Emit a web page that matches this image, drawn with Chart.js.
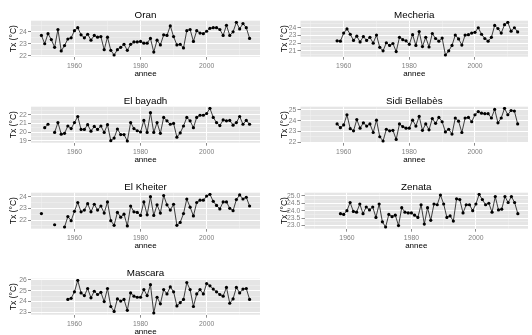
<!DOCTYPE html>
<html>
<head>
<meta charset="utf-8">
<script src="https://cdn.jsdelivr.net/npm/chart.js@4/dist/chart.umd.min.js"></script>
<style>
  html, body { margin: 0; padding: 0; background: #ffffff; overflow: hidden; width: 532px; height: 335px; }
  .panel { position: absolute; }
</style>
</head>
<body>
<script>
// Annual mean of daily maximum temperature (Tx, °C) per station, 1950-2013
const YEARS = [1950,1951,1952,1953,1954,1955,1956,1957,1958,1959,
               1960,1961,1962,1963,1964,1965,1966,1967,1968,1969,
               1970,1971,1972,1973,1974,1975,1976,1977,1978,1979,
               1980,1981,1982,1983,1984,1985,1986,1987,1988,1989,
               1990,1991,1992,1993,1994,1995,1996,1997,1998,1999,
               2000,2001,2002,2003,2004,2005,2006,2007,2008,2009,
               2010,2011,2012,2013];

const ORAN = [23.7,23.0,23.85,23.35,22.7,24.2,22.4,22.85,23.4,23.5,
              24.1,24.35,23.75,23.5,23.8,23.3,23.7,23.55,23.6,22.5,
              23.55,22.45,22.05,22.5,22.7,22.95,22.45,22.95,23.15,23.15,
              23.2,23.05,23.05,23.45,22.3,23.3,22.9,23.75,23.7,24.5,
              23.6,22.9,22.95,22.65,24.1,24.2,23.2,24.1,23.9,23.85,
              24.05,24.3,24.35,24.35,24.2,23.7,24.55,23.7,24.0,24.8,
              24.25,24.7,24.35,23.45];

const MECHERIA = [null,null,null,null,null,null,null,null,
              22.3,22.25,
              23.3,23.85,23.15,22.35,22.9,22.15,22.85,22.35,22.75,22.0,
              23.05,21.45,21.0,22.05,21.7,21.95,20.9,22.75,22.45,22.3,
              21.85,23.1,21.7,23.5,21.55,22.75,21.5,23.25,22.6,22.25,
              22.65,20.45,21.0,21.7,23.05,22.55,21.75,23.05,23.1,23.3,
              23.4,24.0,23.15,22.6,22.25,22.75,24.3,23.9,23.3,24.4,
              24.7,23.55,24.0,23.45];

const EL_BAYADH = [null,20.5,20.9,null,19.95,21.1,19.75,19.85,20.7,20.4,
              21.1,21.8,20.3,20.3,20.85,20.1,20.65,20.3,20.7,19.95,
              20.85,19.0,19.3,20.35,19.7,19.7,18.95,21.1,20.4,20.15,
              20.0,21.35,19.95,22.25,19.95,21.1,19.85,21.7,21.3,20.9,
              21.0,19.4,19.9,20.7,21.7,21.3,20.5,21.7,21.95,21.95,
              22.15,22.75,21.7,21.1,20.75,21.4,21.3,21.35,20.8,21.1,
              21.8,20.9,21.35,20.9];

const SIDI_BELLABES = [null,null,null,null,null,null,null,null,
              23.7,23.35,
              23.6,24.55,23.25,23.05,24.1,23.3,23.8,23.5,23.7,22.9,
              24.05,22.5,22.1,23.2,23.05,23.1,22.25,23.7,23.45,23.3,
              23.3,24.05,23.5,24.4,23.1,23.7,23.15,24.2,23.75,24.3,
              23.9,22.95,23.2,22.75,24.25,23.95,22.9,24.25,24.3,23.9,
              24.55,24.85,24.7,24.65,24.65,24.25,25.05,23.8,24.25,25.15,
              24.55,24.95,24.9,23.7];

const EL_KHEITER = [22.55,null,null,null,21.6,null,null,21.4,22.3,21.95,
              22.75,23.5,22.7,22.85,23.4,22.7,23.35,22.85,23.2,22.6,
              23.55,21.95,21.55,22.65,22.25,22.5,21.5,23.2,22.7,22.65,
              22.4,23.55,22.45,24.0,22.4,23.3,22.6,24.1,23.3,22.85,
              23.35,21.55,21.8,22.55,23.8,23.1,22.35,23.5,23.7,23.7,
              24.05,24.2,23.6,23.25,22.95,23.55,23.55,23.0,22.8,23.75,
              24.15,23.8,23.95,23.2];

const ZENATA = [null,null,null,null,null,null,null,null,
              23.8,23.75,
              24.0,24.55,23.95,23.9,24.45,23.8,24.25,24.05,24.25,23.55,
              24.45,23.25,22.9,23.75,23.6,23.7,23.0,24.2,23.9,23.85,
              23.85,23.7,23.55,24.4,23.1,24.2,23.35,24.45,24.4,25.05,
              24.45,23.55,23.65,23.3,24.8,24.75,23.85,24.4,24.4,24.0,
              24.45,25.1,24.75,24.4,24.5,23.9,24.95,24.05,24.1,24.95,
              24.55,24.95,24.55,23.8];

const MASCARA = [null,null,null,null,null,null,null,null,
              24.2,24.3,
              24.9,25.95,24.8,24.55,25.2,24.35,24.95,24.65,24.85,24.0,
              25.2,23.55,23.1,24.25,24.05,24.2,23.2,24.8,24.5,24.4,
              24.4,25.1,24.55,25.55,22.95,24.4,23.8,25.1,24.7,25.35,
              24.9,23.6,23.9,24.2,25.75,25.1,23.55,24.7,25.1,24.7,
              25.65,25.45,25.15,24.9,24.65,24.5,25.3,23.85,24.25,25.3,
              24.8,25.15,25.2,24.2];

// Axis breaks
const YEAR_TICKS = [1960, 1980, 2000];
const YEAR_GRID = [1950, 1960, 1970, 1980, 1990, 2000, 2010];
const ORAN_TICKS = [22, 23, 24];
const MECHERIA_TICKS = [21, 22, 23, 24];
const EL_BAYADH_TICKS = [19, 20, 21, 22];
const SIDI_BELLABES_TICKS = [22, 23, 24, 25];
const EL_KHEITER_TICKS = [22, 23, 24];
const ZENATA_TICKS = [23.0, 23.5, 24.0, 24.5, 25.0];
const MASCARA_TICKS = [23, 24, 25, 26];

const FONT = '"Liberation Sans", Arial, Helvetica, sans-serif';
const PANEL_W = 264, PANEL_H = 86;
const X_AXIS_H = 29.3;
const xSpan = YEARS[YEARS.length - 1] - YEARS[0];
const X_MIN = YEARS[0] - 0.05 * xSpan, X_MAX = YEARS[YEARS.length - 1] + 0.05 * xSpan;

const panels = [
  { name: 'Oran',          values: ORAN,          ticks: ORAN_TICKS,          dec: 0, left: 0,   top: 0,   axisW: 31,   titlePad: 9.0,  padRight: 3 },
  { name: 'Mecheria',      values: MECHERIA,      ticks: MECHERIA_TICKS,      dec: 0, left: 268, top: 0,   axisW: 32.5, titlePad: 12.2, padRight: 2 },
  { name: 'El bayadh',     values: EL_BAYADH,     ticks: EL_BAYADH_TICKS,     dec: 0, left: 0,   top: 86,  axisW: 31,   titlePad: 9.0,  padRight: 3 },
  { name: 'Sidi Bellabès', values: SIDI_BELLABES, ticks: SIDI_BELLABES_TICKS, dec: 0, left: 268, top: 86,  axisW: 32.5, titlePad: 12.2, padRight: 2 },
  { name: 'El Kheiter',    values: EL_KHEITER,    ticks: EL_KHEITER_TICKS,    dec: 0, left: 0,   top: 172, axisW: 31,   titlePad: 9.0,  padRight: 3 },
  { name: 'Zenata',        values: ZENATA,        ticks: ZENATA_TICKS,        dec: 1, left: 268, top: 172, axisW: 36.5, titlePad: 12.2, padRight: 2 },
  { name: 'Mascara',       values: MASCARA,       ticks: MASCARA_TICKS,       dec: 0, left: 0,   top: 258, axisW: 31,   titlePad: 9.0,  padRight: 3 }
];

// grey panel background behind the grid
const panelBg = {
  id: 'panelBg',
  beforeDraw(chart) {
    const { ctx, chartArea: a } = chart;
    ctx.save();
    ctx.fillStyle = '#E5E5E5';
    ctx.fillRect(a.left, a.top, a.right - a.left, a.bottom - a.top);
    ctx.restore();
  }
};

function near(list, v) { return list.some(t => Math.abs(t - v) < 1e-6); }

function gridStyle(majors) {
  return {
    color: c => near(majors, c.tick.value) ? '#FFFFFF' : '#F3F3F3',
    lineWidth: c => near(majors, c.tick.value) ? 1 : 0.5,
    tickLength: 3,
    tickWidth: 1,
    tickColor: c => near(majors, c.tick.value) ? '#8C8C8C' : 'rgba(0,0,0,0)'
  };
}

function makePanel(p) {
  const wrap = document.createElement('div');
  wrap.className = 'panel';
  wrap.style.left = p.left + 'px';
  wrap.style.top = p.top + 'px';
  wrap.style.width = PANEL_W + 'px';
  wrap.style.height = PANEL_H + 'px';
  const cv = document.createElement('canvas');
  cv.width = PANEL_W; cv.height = PANEL_H;
  cv.style.width = PANEL_W + 'px'; cv.style.height = PANEL_H + 'px';
  wrap.appendChild(cv);
  document.body.appendChild(wrap);

  const present = p.values.filter(v => v !== null);
  const lo = Math.min(...present), hi = Math.max(...present);
  const ext = (hi - lo) * 0.05;
  const yMin = lo - ext, yMax = hi + ext;
  const step = p.ticks[1] - p.ticks[0];
  const yGrid = p.ticks.slice();
  for (let i = -1; i < p.ticks.length; i++) {
    const m = p.ticks[0] + (i + 0.5) * step;
    if (m > yMin && m < yMax) yGrid.push(m);
  }
  yGrid.sort((a, b) => a - b);

  new Chart(cv, {
    type: 'line',
    data: {
      datasets: [{
        data: YEARS.map((yr, i) => ({ x: yr, y: p.values[i] })),
        borderColor: '#111111',
        borderWidth: 0.8,
        pointRadius: 1.6,
        pointBackgroundColor: '#000000',
        pointBorderWidth: 0,
        spanGaps: false,
        tension: 0
      }]
    },
    options: {
      responsive: false,
      animation: false,
      devicePixelRatio: 1,
      layout: { padding: { left: 0, right: p.padRight, top: 0, bottom: 0 } },
      plugins: {
        legend: { display: false },
        tooltip: { enabled: false },
        title: {
          display: true, text: p.name, color: '#000000', fullSize: false,
          font: { family: FONT, size: 9.8, weight: 'normal', lineHeight: 1 },
          padding: { top: 10.8, bottom: 0.1 }
        }
      },
      scales: {
        x: {
          type: 'linear', min: X_MIN, max: X_MAX,
          afterBuildTicks: s => { s.ticks = YEAR_GRID.map(v => ({ value: v })); },
          afterFit: s => { s.height = X_AXIS_H; },
          ticks: {
            autoSkip: false, maxRotation: 0, minRotation: 0, padding: 2.2,
            color: '#7F7F7F', font: { family: FONT, size: 6.8 },
            callback: v => near(YEAR_TICKS, v) ? String(v) : ''
          },
          grid: gridStyle(YEAR_TICKS),
          border: { display: false },
          title: {
            display: true, text: 'annee', color: '#000000',
            font: { family: FONT, size: 8, lineHeight: 1 },
            padding: { top: 0, bottom: 8 }
          }
        },
        y: {
          type: 'linear', min: yMin, max: yMax,
          afterBuildTicks: s => { s.ticks = yGrid.map(v => ({ value: v })); },
          afterFit: s => { s.width = p.axisW; },
          ticks: {
            autoSkip: false, padding: 1.2,
            color: '#7F7F7F', font: { family: FONT, size: 6.8 },
            callback: v => near(p.ticks, v) ? v.toFixed(p.dec) : ''
          },
          grid: gridStyle(p.ticks),
          border: { display: false },
          title: {
            display: true, text: 'Tx (°C)', color: '#000000',
            font: { family: FONT, size: 8.6, lineHeight: 1 },
            padding: { top: p.titlePad, bottom: 0 }
          }
        }
      }
    },
    plugins: [panelBg]
  });
}

panels.forEach(makePanel);
</script>
</body>
</html>
